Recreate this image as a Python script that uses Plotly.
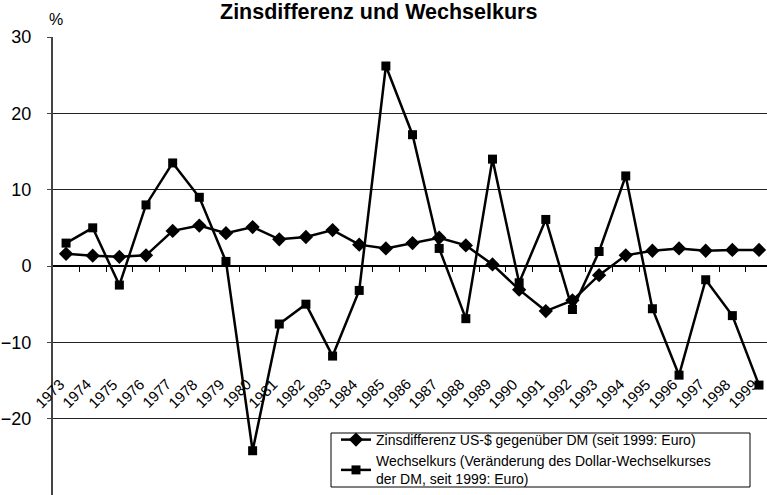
import plotly.graph_objects as go

years = list(range(1973, 2000))
year_labels = [str(y) for y in years]
zinsdifferenz = [1.6, 1.35, 1.2, 1.4, 4.6, 5.3, 4.3, 5.1, 3.5, 3.8, 4.7, 2.8, 2.3,
                 3.0, 3.7, 2.7, 0.2, -3.1, -5.9, -4.5, -1.2, 1.4, 2.0, 2.3, 2.0, 2.1, 2.1]
wechselkurs = [3.0, 5.0, -2.5, 8.0, 13.5, 9.0, 0.6, -24.2, -7.6, -5.0, -11.8, -3.2, 26.2,
               17.2, 2.3, -6.9, 14.0, -2.2, 6.1, -5.7, 1.9, 11.8, -5.6, -14.3, -1.8, -6.5, -15.6]
name1 = "Zinsdifferenz US-$ gegenüber DM (seit 1999: Euro)"
name2 = "Wechselkurs (Veränderung des Dollar-Wechselkurses<br>der DM, seit 1999: Euro)"
title_text = "Zinsdifferenz und Wechselkurs"
y_ticks = [-30, -20, -10, 0, 10, 20, 30]
half_ticks = [y + 0.5 for y in years[:-1]]
label_level = -14.2

FONT = "Liberation Sans, Arial, sans-serif"

# pixel layout helpers (plot area: x 53..767, y 37..495)
PW, PH, PL, PB = 714.0, 458.0, 53.0, 495.0
def px(x):
    return (x - PL) / PW
def py(y):
    return (PB - y) / PH

fig = go.Figure()
fig.add_trace(go.Scatter(x=years, y=zinsdifferenz, name=name1, mode="lines+markers",
                         line=dict(color="black", width=2.5),
                         marker=dict(symbol="diamond", size=11, color="black")))
fig.add_trace(go.Scatter(x=years, y=wechselkurs, name=name2, mode="lines+markers",
                         line=dict(color="black", width=2.5),
                         marker=dict(symbol="square", size=9, color="black")))

x_range = [1972.51, 1999.3]

annotations = [dict(text="%", xref="paper", yref="paper", x=px(47), y=py(19),
                    xanchor="left", yanchor="middle", showarrow=False,
                    font=dict(size=16, family=FONT)),
               dict(text="<b>" + title_text + "</b>", xref="paper", yref="paper",
                    x=px(378), y=py(12), xanchor="center", yanchor="middle",
                    showarrow=False, font=dict(size=21.5, family=FONT))]
for yr, lab in zip(years, year_labels):
    annotations.append(dict(text=lab, x=yr + 0.1, y=label_level, xref="x", yref="y",
                            xanchor="right", yanchor="top", textangle=-45, showarrow=False,
                            font=dict(size=15, family=FONT), borderpad=0))

shapes = [dict(type="rect", xref="paper", yref="paper", x0=px(331), x1=px(750),
               y0=py(487), y1=py(433), line=dict(color="black", width=1),
               fillcolor="white", layer="above")]

fig.update_layout(
    width=767, height=495,
    margin=dict(l=53, r=0, t=37, b=0),
    paper_bgcolor="white", plot_bgcolor="white",
    font=dict(family=FONT, color="black"),
    xaxis=dict(range=x_range, tickvals=half_ticks, showticklabels=False,
               ticks="outside", ticklen=5, tickcolor="black",
               showline=True, linecolor="black", linewidth=1.5,
               showgrid=False, zeroline=False, anchor="free", position=0.5,
               automargin=False),
    yaxis=dict(range=[-30, 30], tickvals=y_ticks, showgrid=True, gridcolor="#222",
               gridwidth=1, zeroline=False, showline=True, linecolor="#444", linewidth=2,
               ticks="outside", ticklen=4, tickcolor="#444", ticklabelstandoff=12,
               tickfont=dict(size=18, family=FONT), automargin=False),
    legend=dict(x=px(336), y=0.0, xanchor="left", yanchor="bottom",
                bgcolor="rgba(0,0,0,0)", borderwidth=0,
                font=dict(size=14, family=FONT), tracegroupgap=0),
    showlegend=True,
    shapes=shapes,
    annotations=annotations,
)

fig.write_html("out.html", config={"displayModeBar": False},
               post_script="document.body.style.margin='0';document.body.style.overflow='hidden';")
